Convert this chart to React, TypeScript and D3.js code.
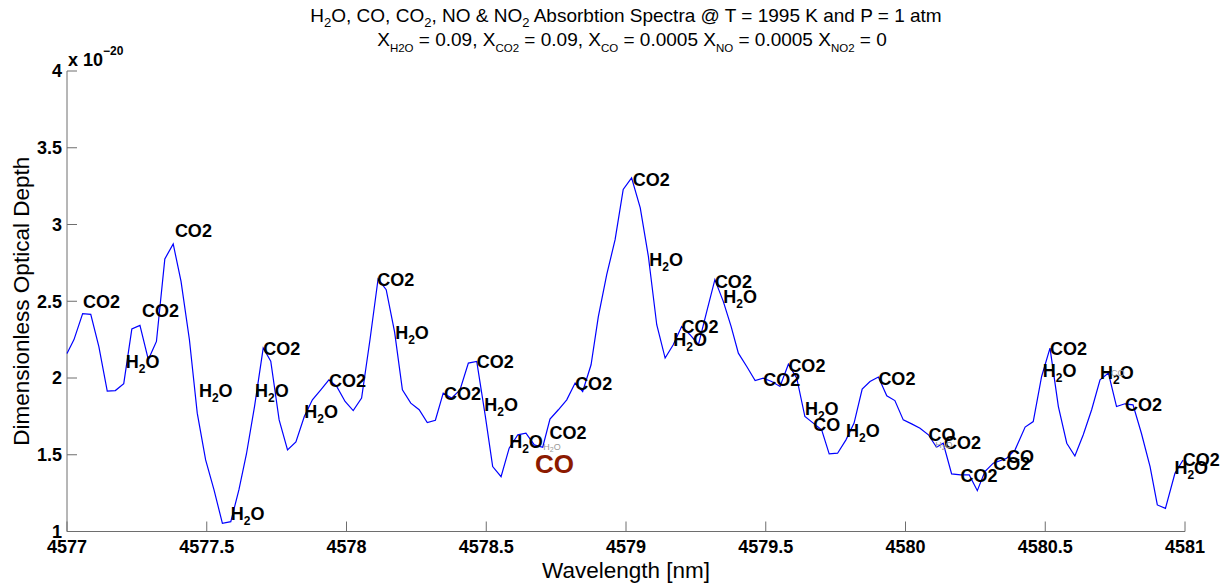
import React from 'react';
import * as d3 from 'd3';

// spectrum (wavelength in nm, optical depth in units of 1e-20)
const wavelengths = [
  4577.0, 4577.025, 4577.056, 4577.085, 4577.114, 4577.144, 4577.173, 4577.203, 4577.232, 4577.261,
  4577.291, 4577.32, 4577.35, 4577.38, 4577.408, 4577.438, 4577.466, 4577.496, 4577.526, 4577.556,
  4577.586, 4577.615, 4577.642, 4577.671, 4577.702, 4577.729, 4577.759, 4577.789, 4577.819, 4577.849,
  4577.878, 4577.908, 4577.937, 4577.965, 4577.995, 4578.024, 4578.054, 4578.084, 4578.113, 4578.142,
  4578.172, 4578.2, 4578.23, 4578.26, 4578.289, 4578.318, 4578.346, 4578.376, 4578.406, 4578.436,
  4578.466, 4578.496, 4578.523, 4578.553, 4578.582, 4578.613, 4578.642, 4578.672, 4578.702, 4578.728,
  4578.758, 4578.788, 4578.818, 4578.845, 4578.875, 4578.901, 4578.931, 4578.961, 4578.99, 4579.02,
  4579.051, 4579.08, 4579.11, 4579.14, 4579.169, 4579.199, 4579.229, 4579.259, 4579.289, 4579.318,
  4579.348, 4579.376, 4579.402, 4579.432, 4579.462, 4579.491, 4579.521, 4579.551, 4579.581, 4579.611,
  4579.64, 4579.67, 4579.7, 4579.727, 4579.757, 4579.787, 4579.816, 4579.845, 4579.873, 4579.903,
  4579.933, 4579.962, 4579.992, 4580.022, 4580.052, 4580.082, 4580.111, 4580.135, 4580.165, 4580.197,
  4580.228, 4580.257, 4580.284, 4580.314, 4580.362, 4580.392, 4580.428, 4580.457, 4580.487, 4580.517,
  4580.547, 4580.577, 4580.606, 4580.636, 4580.666, 4580.696, 4580.726, 4580.755, 4580.785, 4580.814,
  4580.844, 4580.875, 4580.901, 4580.93, 4580.964, 4580.993
];
const opticalDepth = [
  2.16, 2.25, 2.42, 2.415, 2.205, 1.915, 1.918, 1.963, 2.319, 2.343,
  2.12, 2.238, 2.776, 2.873, 2.63, 2.249, 1.771, 1.466, 1.271, 1.053,
  1.064, 1.271, 1.505, 1.815, 2.195, 2.11, 1.727, 1.532, 1.584, 1.749,
  1.858, 1.923, 1.988, 1.945, 1.847, 1.788, 1.869, 2.249, 2.645, 2.575,
  2.3, 1.923, 1.836, 1.793, 1.71, 1.725, 1.901, 1.869, 1.923, 2.097,
  2.108, 1.76, 1.423, 1.357, 1.543, 1.63, 1.64, 1.564, 1.549, 1.732,
  1.793, 1.858, 1.967, 1.912, 2.086, 2.4, 2.673, 2.901, 3.228, 3.304,
  3.108, 2.793, 2.347, 2.13, 2.217, 2.336, 2.282, 2.217, 2.434, 2.641,
  2.499, 2.336, 2.162, 2.075, 1.984, 1.999, 1.977, 1.945, 2.09, 1.999,
  1.749, 1.706, 1.662, 1.506, 1.51, 1.597, 1.706, 1.928, 1.977, 2.006,
  1.884, 1.853, 1.727, 1.701, 1.673, 1.63, 1.549, 1.575, 1.375, 1.369,
  1.369, 1.266, 1.39, 1.445, 1.477, 1.532, 1.68, 1.716, 2.01, 2.195,
  1.814, 1.575, 1.492, 1.63, 1.793, 1.988, 2.032, 1.814, 1.832, 1.825,
  1.64, 1.423, 1.173, 1.151, 1.379, 1.466
];

// line annotations (anchor = left edge / baseline, in data units)
const labelNm = [
  4577.057, 4577.268, 4577.386, 4577.21, 4577.472, 4577.586, 4577.702, 4577.673, 4577.849, 4577.937,
  4578.11, 4578.174, 4578.349, 4578.466, 4578.493, 4578.582, 4578.726, 4578.818, 4579.024, 4579.083,
  4579.199, 4579.169, 4579.318, 4579.348, 4579.491, 4579.581, 4579.64, 4579.67, 4579.787, 4579.903,
  4580.082, 4580.138, 4580.197, 4580.314, 4580.363, 4580.517, 4580.491, 4580.696, 4580.785, 4580.992,
  4580.962
];
const labelVal = [
  2.456, 2.397, 2.919, 2.063, 1.878, 1.075, 2.15, 1.874, 1.741, 1.939,
  2.599, 2.252, 1.857, 2.067, 1.785, 1.542, 1.601, 1.922, 3.253, 2.73,
  2.291, 2.21, 2.588, 2.491, 1.948, 2.041, 1.759, 1.655, 1.614, 1.954,
  1.592, 1.537, 1.324, 1.401, 1.444, 2.15, 2.008, 1.992, 1.787, 1.427,
  1.375
];
const labelText = [
  'CO2', 'CO2', 'CO2', 'H2O', 'H2O', 'H2O', 'CO2', 'H2O', 'H2O', 'CO2',
  'CO2', 'H2O', 'CO2', 'CO2', 'H2O', 'H2O', 'CO2', 'CO2', 'CO2', 'H2O',
  'CO2', 'H2O', 'CO2', 'H2O', 'CO2', 'CO2', 'H2O', 'CO', 'H2O', 'CO2',
  'CO', 'CO2', 'CO2', 'CO2', 'CO', 'CO2', 'H2O', 'H2O', 'CO2', 'CO2',
  'H2O'
];

// faint small annotations
const smallNm = [4578.704, 4580.106, 4580.735];
const smallVal = [1.531, 1.544, 2.013];
const smallText = ['H2O', 'H2O', 'CO'];

// highlighted species
const highlightNm = [4578.674];
const highlightVal = [1.379];
const highlightText = ['CO'];

const xTicks = [4577, 4577.5, 4578, 4578.5, 4579, 4579.5, 4580, 4580.5, 4581];
const yTicks = [1, 1.5, 2, 2.5, 3, 3.5, 4];

// title pieces: [text, subscript?]
const titleLine1: [string, boolean][] = [
  ['H', false], ['2', true], ['O, CO, CO', false], ['2', true], [', NO & NO', false], ['2', true],
  [' Absorbtion Spectra @ T = 1995 K and P = 1 atm', false]
];
const titleLine2: [string, boolean][] = [
  ['X', false], ['H2O', true], [' = 0.09, X', false], ['CO2', true], [' = 0.09, X', false], ['CO', true],
  [' = 0.0005 X', false], ['NO', true], [' = 0.0005 X', false], ['NO2', true], [' = 0', false]
];

const W = 1222;
const H = 584;
const FONT = '"Liberation Sans", Arial, Helvetica, sans-serif';

const x = d3.scaleLinear().domain([4577, 4581]).range([67, 1185]);
const y = d3.scaleLinear().domain([1, 4]).range([531.5, 71]);

const Species: React.FC<{ text: string; size: number; subSize: number; shift: number }> = ({ text, size, subSize, shift }) => {
  if (text === 'H2O') {
    return (
      <>
        H<tspan fontSize={subSize} dy={shift}>2</tspan>
        <tspan fontSize={size} dy={-shift}>O</tspan>
      </>
    );
  }
  return <>{text}</>;
};

// renders a list of segments with lowered subscripts
const Segments: React.FC<{ parts: [string, boolean][]; subSize: number; shift: number }> = ({ parts, subSize, shift }) => (
  <>
    {parts.map(([t, sub], i) => {
      const prevSub = i > 0 && parts[i - 1][1];
      if (sub) {
        return <tspan key={i} fontSize={subSize} dy={shift}>{t}</tspan>;
      }
      return <tspan key={i} dy={prevSub ? -shift : 0}>{t}</tspan>;
    })}
  </>
);

const App: React.FC = () => {
  const line = d3.line<number>()
    .x((_, i) => x(wavelengths[i]))
    .y((d) => y(d));

  const axisColor = '#6e6e6e';
  const cx = (x.range()[0] + x.range()[1]) / 2;
  const cy = (y.range()[0] + y.range()[1]) / 2;

  return (
    <svg width={W} height={H} style={{ position: 'absolute', left: 0, top: 0, background: '#fff' }} fontFamily={FONT}>
      {/* title */}
      <text x={cx} y={22} textAnchor="middle" fontSize={19} fill="#000" xmlSpace="preserve">
        <Segments parts={titleLine1} subSize={13} shift={5} />
      </text>
      <text x={cx + 6} y={46} textAnchor="middle" fontSize={19} fill="#000" xmlSpace="preserve">
        <Segments parts={titleLine2} subSize={11.5} shift={6} />
      </text>

      {/* axes */}
      <line x1={x.range()[0]} x2={x.range()[0]} y1={y.range()[0]} y2={y.range()[1]} stroke={axisColor} strokeWidth={1} />
      <line x1={x.range()[0]} x2={x.range()[1]} y1={y.range()[0]} y2={y.range()[0]} stroke={axisColor} strokeWidth={1} />
      {yTicks.map((t) => (
        <g key={`y${t}`}>
          <line x1={x.range()[0]} x2={x.range()[0] + 10} y1={y(t)} y2={y(t)} stroke={axisColor} />
          <text x={x.range()[0] - 5} y={y(t)} dy="0.36em" textAnchor="end" fontSize={18} fontWeight="bold">
            {t}
          </text>
        </g>
      ))}
      {xTicks.map((t) => (
        <g key={`x${t}`}>
          <line x1={x(t)} x2={x(t)} y1={y.range()[0]} y2={y.range()[0] - 10} stroke={axisColor} />
          <text x={x(t)} y={553} textAnchor="middle" fontSize={18} fontWeight="bold">
            {t}
          </text>
        </g>
      ))}
      <text x={68} y={66} fontSize={18} fontWeight="bold">
        x 10<tspan fontSize={12} dy={-11}>−20</tspan>
      </text>

      {/* axis labels */}
      <text x={cx} y={578} textAnchor="middle" fontSize={22.5}>Wavelength [nm]</text>
      <text transform={`translate(29,${cy}) rotate(-90)`} textAnchor="middle" fontSize={22.5}>
        Dimensionless Optical Depth
      </text>

      {/* spectrum */}
      <path d={line(opticalDepth) ?? ''} fill="none" stroke="#0000ff" strokeWidth={1.2} />

      {/* annotations */}
      {labelText.map((t, i) => (
        <text key={`l${i}`} x={x(labelNm[i])} y={y(labelVal[i])} fontSize={18} fontWeight="bold" fill="#000">
          <Species text={t} size={18} subSize={12} shift={5} />
        </text>
      ))}
      {smallText.map((t, i) => (
        <text key={`s${i}`} x={x(smallNm[i])} y={y(smallVal[i])} fontSize={9} fill="#999">
          <Species text={t} size={9} subSize={7} shift={2} />
        </text>
      ))}
      {highlightText.map((t, i) => (
        <text key={`h${i}`} x={x(highlightNm[i])} y={y(highlightVal[i])} fontSize={26} fontWeight="bold" fill="#8c1a00">
          {t}
        </text>
      ))}
    </svg>
  );
};

export default App;
